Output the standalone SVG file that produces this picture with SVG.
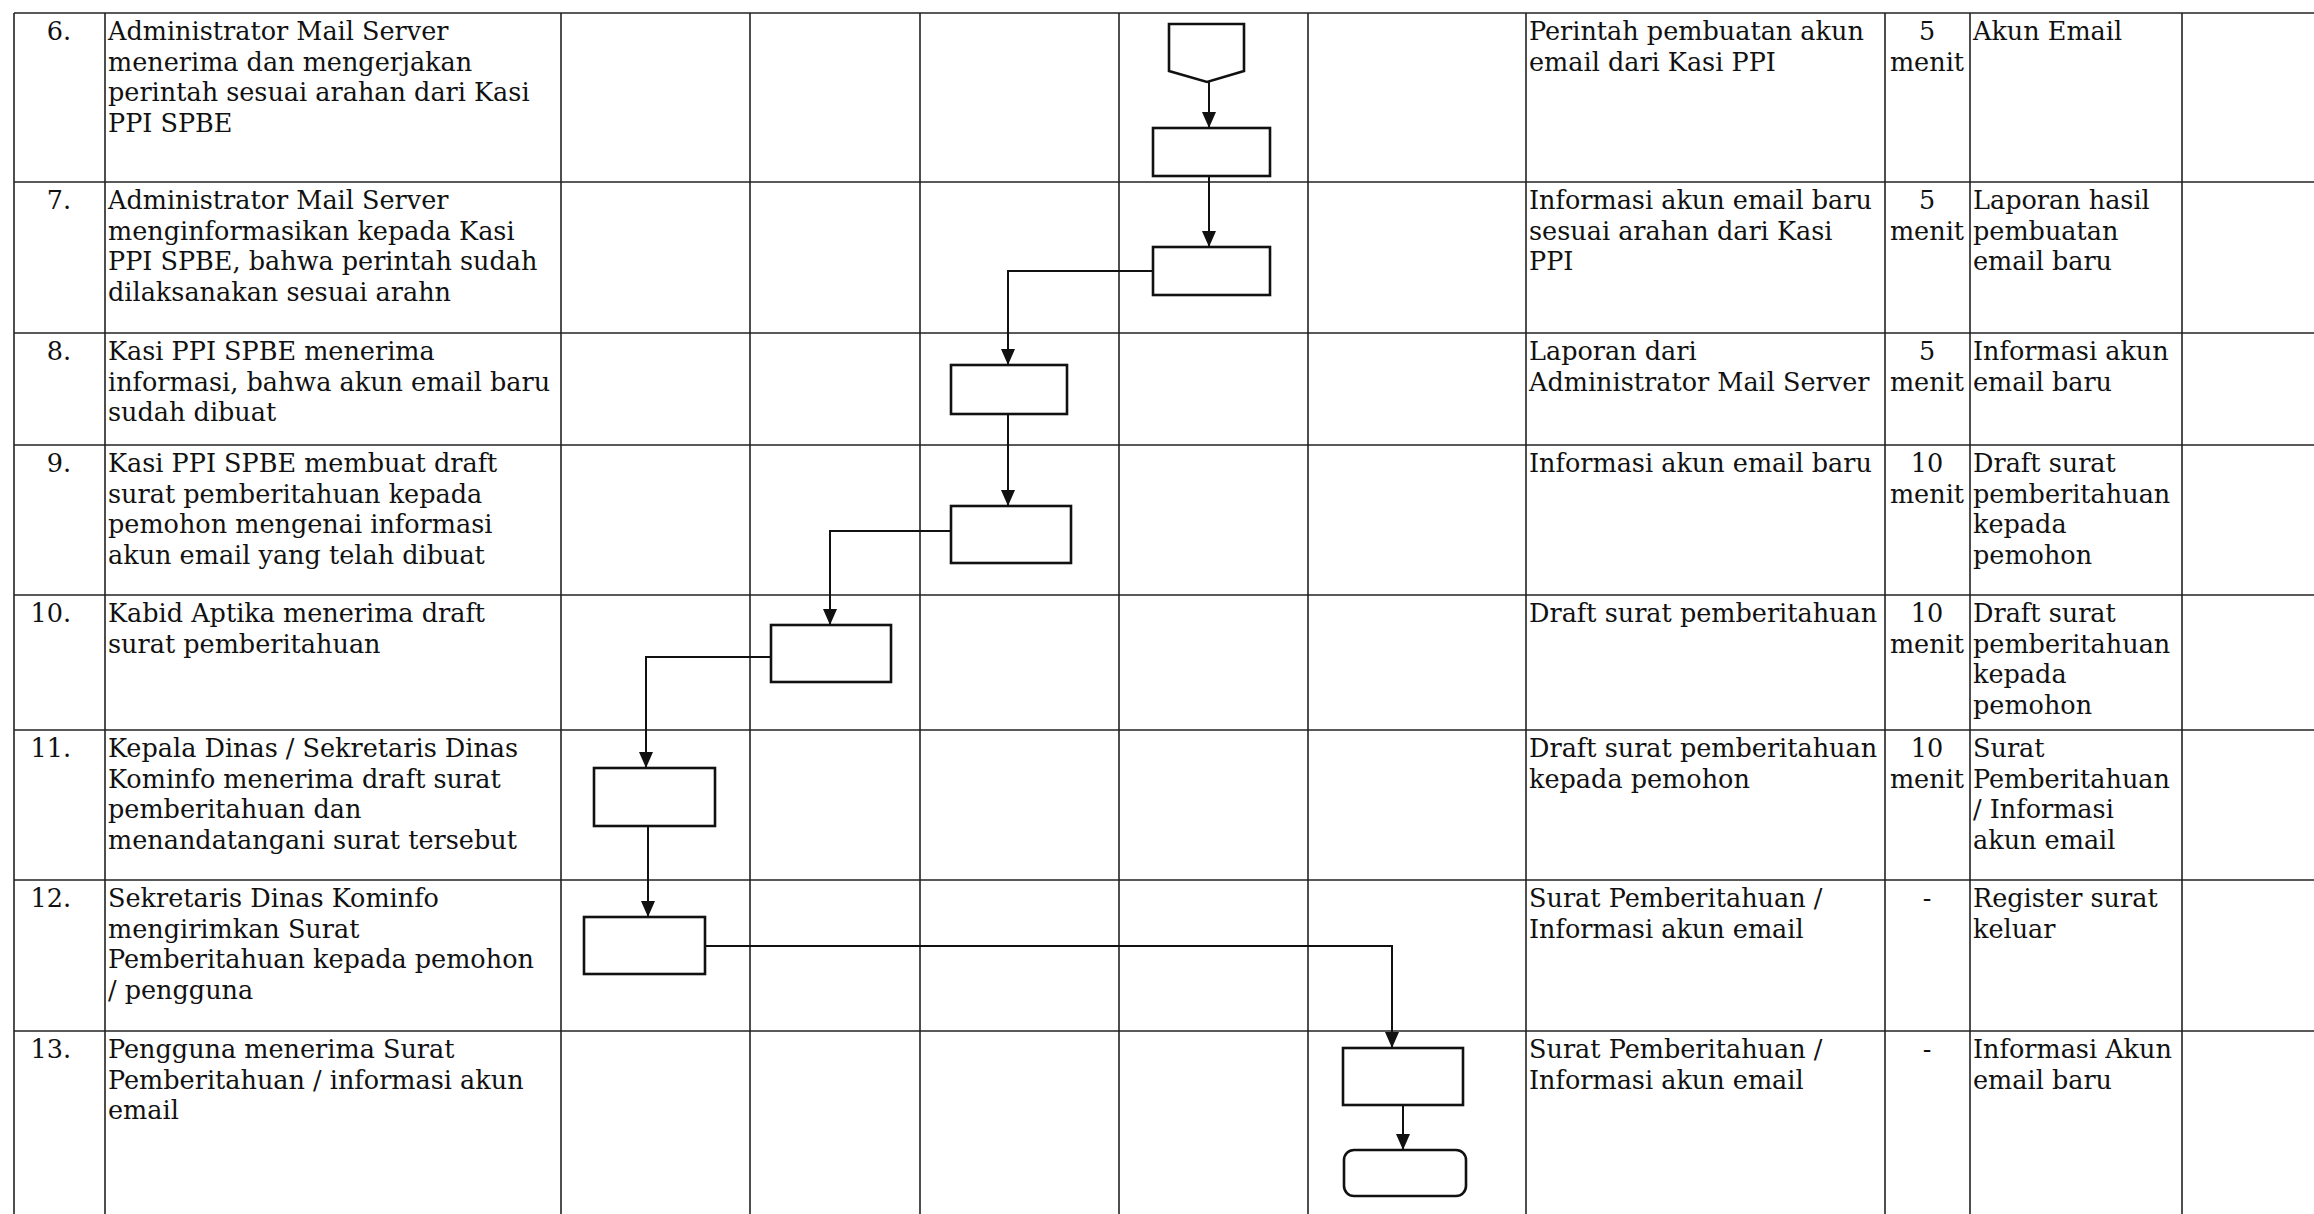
<svg xmlns="http://www.w3.org/2000/svg" width="2314" height="1214" viewBox="0 0 2314 1214">
<defs>
<style>
.grid{stroke:#222;stroke-width:1.6;fill:none}
.box{fill:#fff;stroke:#111;stroke-width:2.6}
.con{fill:none;stroke:#111;stroke-width:2}
text{font-family:"DejaVu Serif","Liberation Serif",serif;font-size:25.5px;fill:#111}
.c{text-anchor:middle}
.r{text-anchor:end}
</style>
<marker id="ah" viewBox="0 0 16 14" refX="16" refY="7" markerWidth="16" markerHeight="14" markerUnits="userSpaceOnUse" orient="auto">
<path d="M0,0 L16,7 L0,14 z" fill="#111"/>
</marker>
</defs>
<rect width="2314" height="1214" fill="#fff"/>
<g id="table" class="grid">
<line x1="14" y1="13" x2="2314" y2="13"/>
<line x1="14" y1="182" x2="2314" y2="182"/>
<line x1="14" y1="333" x2="2314" y2="333"/>
<line x1="14" y1="445" x2="2314" y2="445"/>
<line x1="14" y1="595" x2="2314" y2="595"/>
<line x1="14" y1="730" x2="2314" y2="730"/>
<line x1="14" y1="880" x2="2314" y2="880"/>
<line x1="14" y1="1031" x2="2314" y2="1031"/>
<line x1="14" y1="13" x2="14" y2="1214"/>
<line x1="105" y1="13" x2="105" y2="1214"/>
<line x1="561" y1="13" x2="561" y2="1214"/>
<line x1="750" y1="13" x2="750" y2="1214"/>
<line x1="920" y1="13" x2="920" y2="1214"/>
<line x1="1119" y1="13" x2="1119" y2="1214"/>
<line x1="1308" y1="13" x2="1308" y2="1214"/>
<line x1="1526" y1="13" x2="1526" y2="1214"/>
<line x1="1885" y1="13" x2="1885" y2="1214"/>
<line x1="1970" y1="13" x2="1970" y2="1214"/>
<line x1="2182" y1="13" x2="2182" y2="1214"/>
</g>
<g id="row6">
<text class="r" x="71" y="40">6.</text>
<text x="108" y="40">Administrator Mail Server</text>
<text x="108" y="71">menerima dan mengerjakan</text>
<text x="108" y="101">perintah sesuai arahan dari Kasi</text>
<text x="108" y="132">PPI SPBE</text>
<text x="1529" y="40">Perintah pembuatan akun</text>
<text x="1529" y="71">email dari Kasi PPI</text>
<text class="c" x="1927" y="40">5</text>
<text class="c" x="1927" y="71">menit</text>
<text x="1973" y="40">Akun Email</text>
</g>
<g id="row7">
<text class="r" x="71" y="209">7.</text>
<text x="108" y="209">Administrator Mail Server</text>
<text x="108" y="240">menginformasikan kepada Kasi</text>
<text x="108" y="270">PPI SPBE, bahwa perintah sudah</text>
<text x="108" y="301">dilaksanakan sesuai arahn</text>
<text x="1529" y="209">Informasi akun email baru</text>
<text x="1529" y="240">sesuai arahan dari Kasi</text>
<text x="1529" y="270">PPI</text>
<text class="c" x="1927" y="209">5</text>
<text class="c" x="1927" y="240">menit</text>
<text x="1973" y="209">Laporan hasil</text>
<text x="1973" y="240">pembuatan</text>
<text x="1973" y="270">email baru</text>
</g>
<g id="row8">
<text class="r" x="71" y="360">8.</text>
<text x="108" y="360">Kasi PPI SPBE menerima</text>
<text x="108" y="391">informasi, bahwa akun email baru</text>
<text x="108" y="421">sudah dibuat</text>
<text x="1529" y="360">Laporan dari</text>
<text x="1529" y="391">Administrator Mail Server</text>
<text class="c" x="1927" y="360">5</text>
<text class="c" x="1927" y="391">menit</text>
<text x="1973" y="360">Informasi akun</text>
<text x="1973" y="391">email baru</text>
</g>
<g id="row9">
<text class="r" x="71" y="472">9.</text>
<text x="108" y="472">Kasi PPI SPBE membuat draft</text>
<text x="108" y="503">surat pemberitahuan kepada</text>
<text x="108" y="533">pemohon mengenai informasi</text>
<text x="108" y="564">akun email yang telah dibuat</text>
<text x="1529" y="472">Informasi akun email baru</text>
<text class="c" x="1927" y="472">10</text>
<text class="c" x="1927" y="503">menit</text>
<text x="1973" y="472">Draft surat</text>
<text x="1973" y="503">pemberitahuan</text>
<text x="1973" y="533">kepada</text>
<text x="1973" y="564">pemohon</text>
</g>
<g id="row10">
<text class="r" x="71" y="622">10.</text>
<text x="108" y="622">Kabid Aptika menerima draft</text>
<text x="108" y="653">surat pemberitahuan</text>
<text x="1529" y="622">Draft surat pemberitahuan</text>
<text class="c" x="1927" y="622">10</text>
<text class="c" x="1927" y="653">menit</text>
<text x="1973" y="622">Draft surat</text>
<text x="1973" y="653">pemberitahuan</text>
<text x="1973" y="683">kepada</text>
<text x="1973" y="714">pemohon</text>
</g>
<g id="row11">
<text class="r" x="71" y="757">11.</text>
<text x="108" y="757">Kepala Dinas / Sekretaris Dinas</text>
<text x="108" y="788">Kominfo menerima draft surat</text>
<text x="108" y="818">pemberitahuan dan</text>
<text x="108" y="849">menandatangani surat tersebut</text>
<text x="1529" y="757">Draft surat pemberitahuan</text>
<text x="1529" y="788">kepada pemohon</text>
<text class="c" x="1927" y="757">10</text>
<text class="c" x="1927" y="788">menit</text>
<text x="1973" y="757">Surat</text>
<text x="1973" y="788">Pemberitahuan</text>
<text x="1973" y="818">/ Informasi</text>
<text x="1973" y="849">akun email</text>
</g>
<g id="row12">
<text class="r" x="71" y="907">12.</text>
<text x="108" y="907">Sekretaris Dinas Kominfo</text>
<text x="108" y="938">mengirimkan Surat</text>
<text x="108" y="968">Pemberitahuan kepada pemohon</text>
<text x="108" y="999">/ pengguna</text>
<text x="1529" y="907">Surat Pemberitahuan /</text>
<text x="1529" y="938">Informasi akun email</text>
<text class="c" x="1927" y="907">-</text>
<text x="1973" y="907">Register surat</text>
<text x="1973" y="938">keluar</text>
</g>
<g id="row13">
<text class="r" x="71" y="1058">13.</text>
<text x="108" y="1058">Pengguna menerima Surat</text>
<text x="108" y="1089">Pemberitahuan / informasi akun</text>
<text x="108" y="1119">email</text>
<text x="1529" y="1058">Surat Pemberitahuan /</text>
<text x="1529" y="1089">Informasi akun email</text>
<text class="c" x="1927" y="1058">-</text>
<text x="1973" y="1058">Informasi Akun</text>
<text x="1973" y="1089">email baru</text>
</g>
<g id="connectors">
<path class="con" d="M1209,81 V128" marker-end="url(#ah)"/>
<path class="con" d="M1209,176 V247" marker-end="url(#ah)"/>
<path class="con" d="M1153,271 H1008 V365" marker-end="url(#ah)"/>
<path class="con" d="M1008,414 V506" marker-end="url(#ah)"/>
<path class="con" d="M951,531 H830 V625" marker-end="url(#ah)"/>
<path class="con" d="M771,657 H646 V768" marker-end="url(#ah)"/>
<path class="con" d="M648,826 V917" marker-end="url(#ah)"/>
<path class="con" d="M705,946 H1392 V1048" marker-end="url(#ah)"/>
<path class="con" d="M1403,1106 V1150" marker-end="url(#ah)"/>
</g>
<g id="n-offpage"><path class="box" d="M1169,24 H1244 V71 L1207,82 L1169,71 Z"/></g>
<g id="n6"><rect class="box" x="1153" y="128" width="117" height="48"/></g>
<g id="n7"><rect class="box" x="1153" y="247" width="117" height="48"/></g>
<g id="n8"><rect class="box" x="951" y="365" width="116" height="49"/></g>
<g id="n9"><rect class="box" x="951" y="506" width="120" height="57"/></g>
<g id="n10"><rect class="box" x="771" y="625" width="120" height="57"/></g>
<g id="n11"><rect class="box" x="594" y="768" width="121" height="58"/></g>
<g id="n12"><rect class="box" x="584" y="917" width="121" height="57"/></g>
<g id="n13"><rect class="box" x="1343" y="1048" width="120" height="57"/></g>
<g id="n-end"><rect class="box" x="1344" y="1150" width="122" height="46" rx="10" ry="10"/></g>
</svg>
